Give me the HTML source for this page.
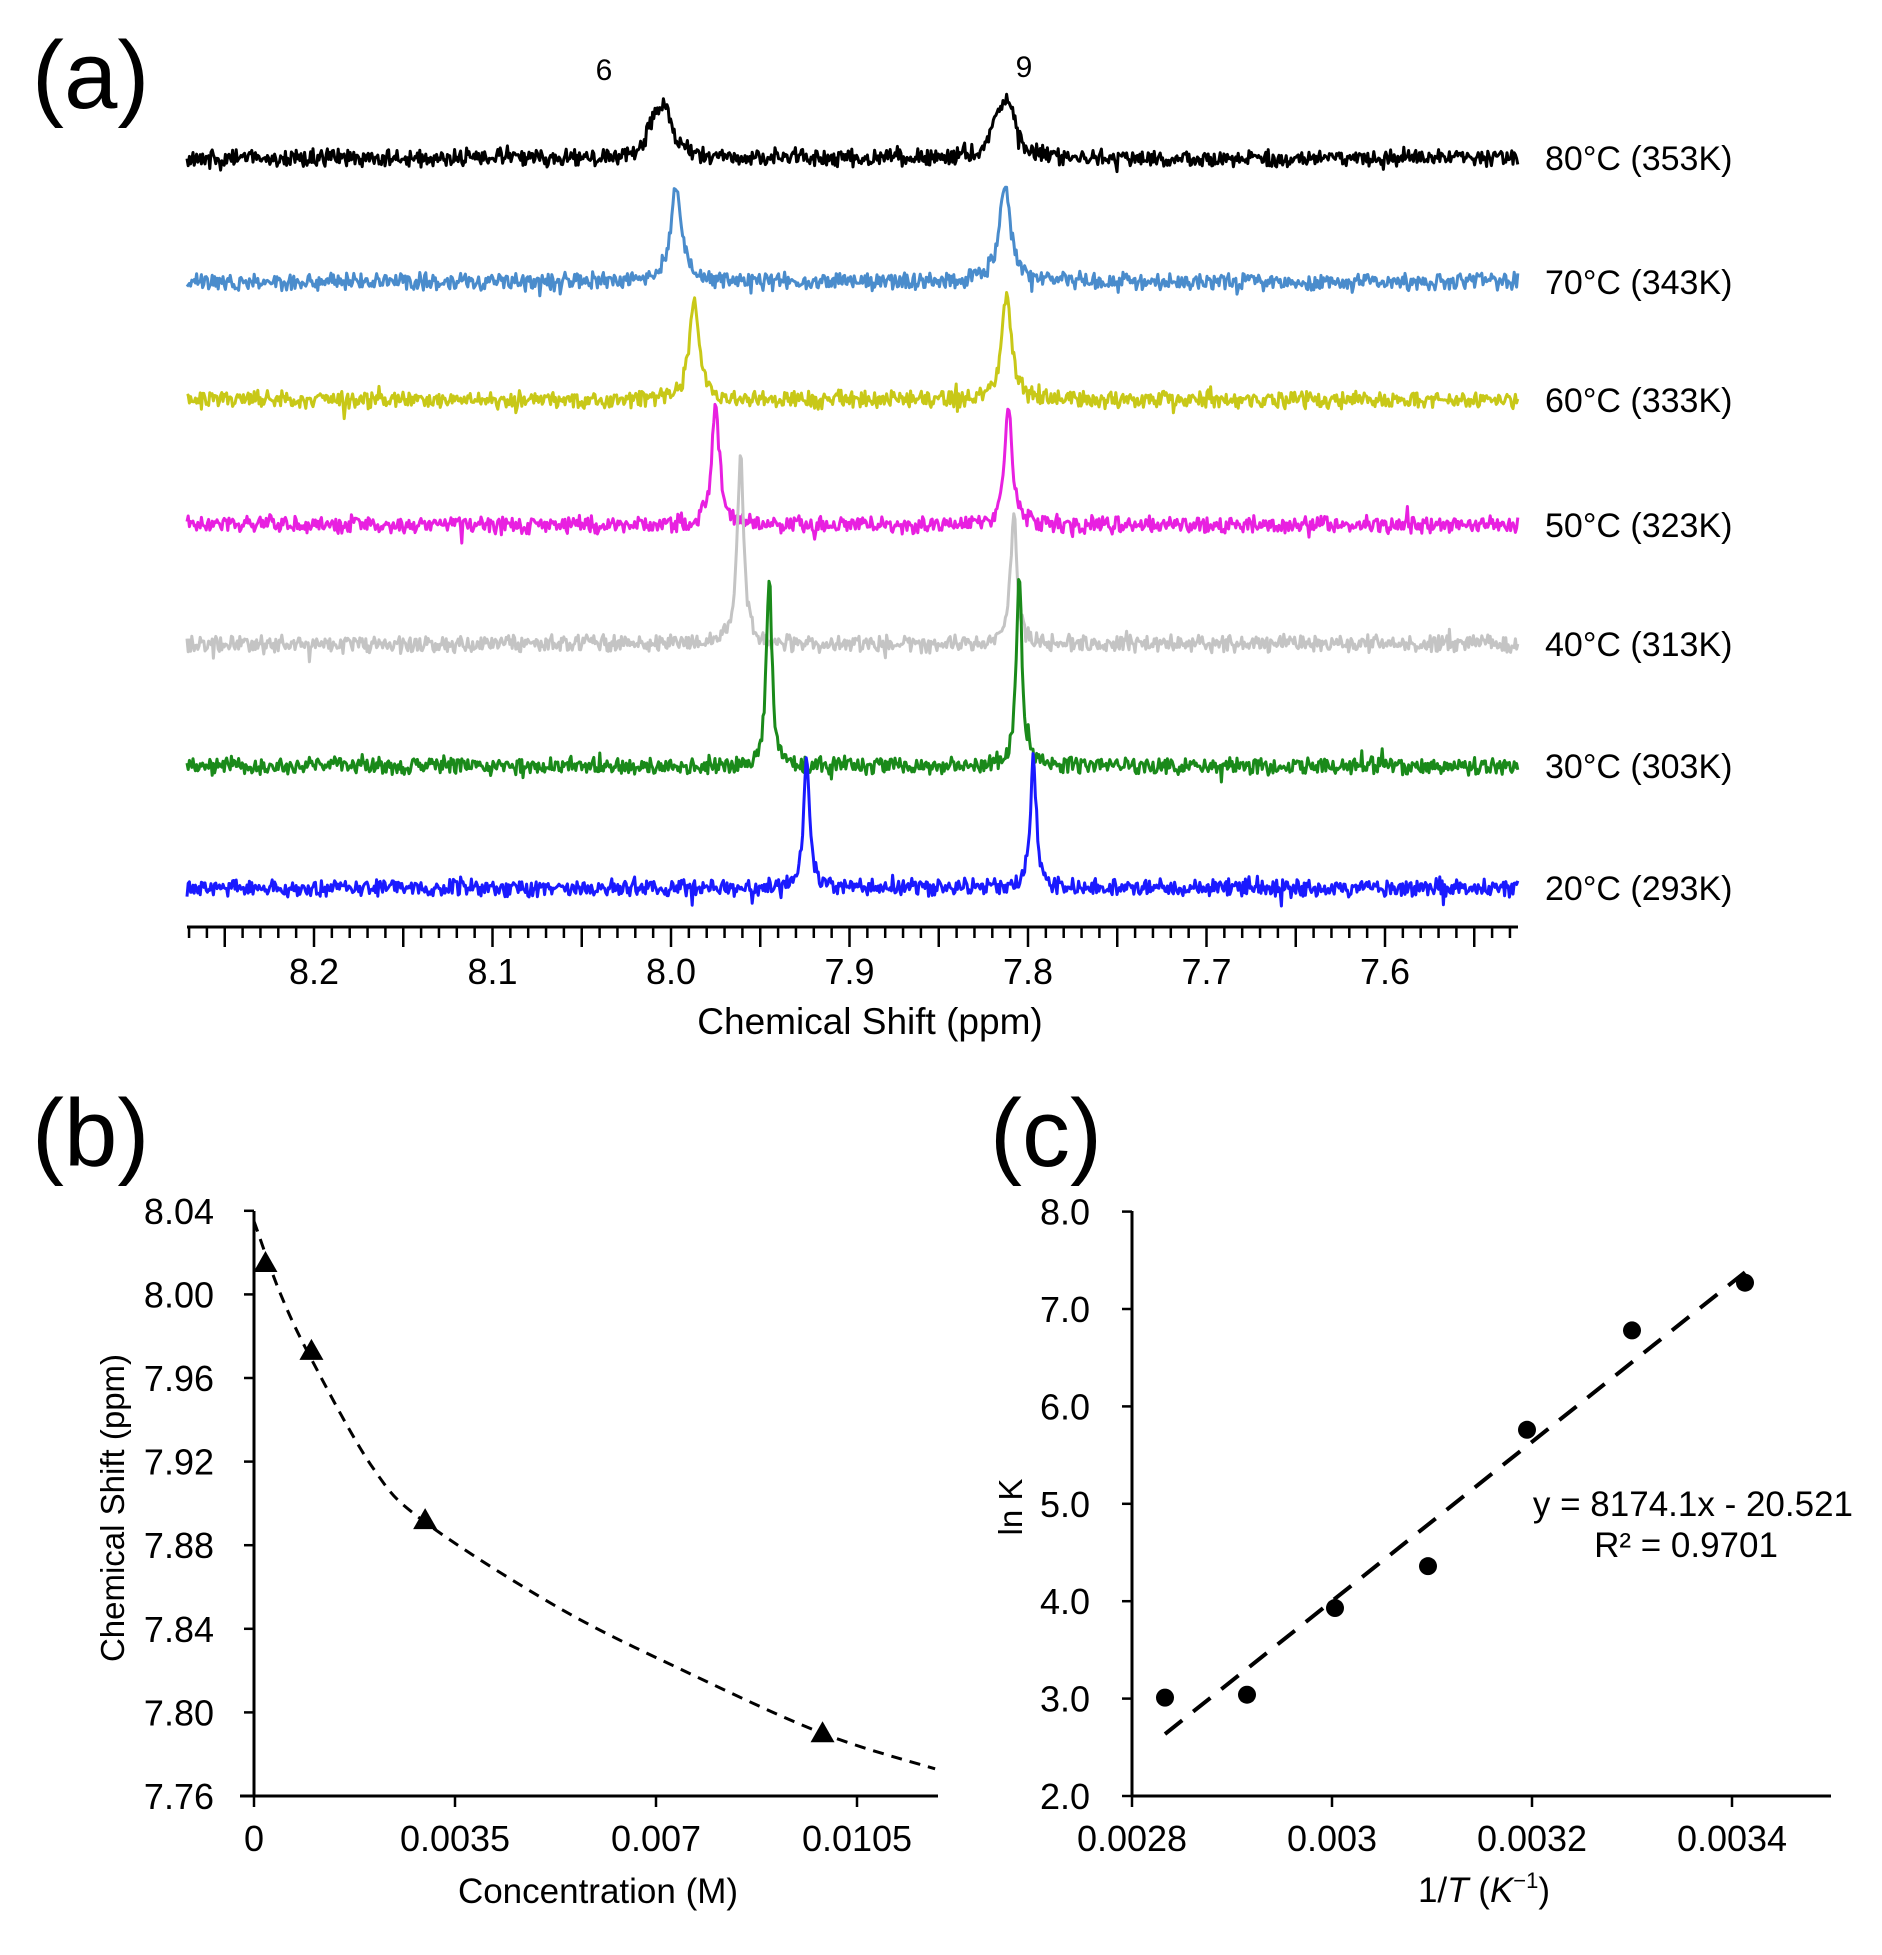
<!DOCTYPE html>
<html><head><meta charset="utf-8"><style>
html,body{margin:0;padding:0;background:#fff}
svg{display:block;font-family:"Liberation Sans",Arial,sans-serif}
</style></head><body>
<svg id="fig" width="1882" height="1955" viewBox="0 0 1882 1955" xmlns="http://www.w3.org/2000/svg">
<rect width="1882" height="1955" fill="#fff"/>
<g id="pa">
<text x="32" y="108" font-size="96">(a)</text>
<text x="604" y="80" font-size="30" text-anchor="middle">6</text>
<text x="1024" y="77" font-size="30" text-anchor="middle">9</text>
<text x="870" y="1034" font-size="37" text-anchor="middle">Chemical Shift (ppm)</text>
</g>
<g id="pb">
<text x="32" y="1166" font-size="96">(b)</text>
<text x="598" y="1903" font-size="35" text-anchor="middle">Concentration (M)</text>
<text transform="translate(124,1508) rotate(-90)" font-size="33" text-anchor="middle">Chemical Shift (ppm)</text>
</g>
<g id="pc">
<text x="990" y="1166" font-size="96">(c)</text>
<text x="1484" y="1902" font-size="35" text-anchor="middle">1/<tspan font-style="italic">T</tspan> (<tspan font-style="italic">K</tspan><tspan font-size="22" dy="-14">−1</tspan><tspan dy="14">)</tspan></text>
<text transform="translate(1022,1507) rotate(-90)" font-size="33" text-anchor="middle">ln K</text>
<text x="1853" y="1516" font-size="35" text-anchor="end">y = 8174.1x - 20.521</text>
<text x="1686" y="1557" font-size="35" text-anchor="middle">R² = 0.9701</text>
</g>
</svg>
<script>
// ---------- Panel (a) data ----------
const tempLabels = ["80°C (353K)","70°C (343K)","60°C (333K)","50°C (323K)","40°C (313K)","30°C (303K)","20°C (293K)"];
const traceColors = ["#000000","#4a8ccc","#c8c818","#e820e0","#c4c4c4","#1a8a1a","#1a1aff"];
const peak6Shift = [8.003,7.997,7.987,7.975,7.961,7.945,7.924];
const peak9Shift = [7.811,7.813,7.812,7.811,7.808,7.805,7.797];
const peak6Height = [0.45,0.90,1.00,1.15,1.80,1.80,1.25];
const peak9Height = [0.50,0.95,1.02,1.15,1.23,1.87,1.25];
const peakWidth = [0.0045,0.0038,0.0032,0.0026,0.0022,0.0019,0.0020];
const ppmTicks = [8.2,8.1,8.0,7.9,7.8,7.7,7.6];
// ---------- Panel (b) data ----------
const concPoints = [0.0002,0.001,0.00298,0.0099];
const shiftPoints = [8.015,7.973,7.892,7.790];
const fitConc = [0,0.00045,0.001,0.00207,0.00298,0.00531,0.00748,0.0099,0.01186];
const fitShift = [8.035,8.001,7.969,7.917,7.891,7.850,7.820,7.790,7.773];
const concTicks = [0,0.0035,0.007,0.0105];
const concTickLabels = ["0","0.0035","0.007","0.0105"];
const shiftTicks = [8.04,8.00,7.96,7.92,7.88,7.84,7.80,7.76];
// ---------- Panel (c) data ----------
const invT = [0.002833,0.002915,0.003003,0.003096,0.003195,0.003300,0.003413];
const lnK = [3.01,3.04,3.93,4.36,5.76,6.78,7.27];
const trendSlope = 8174.1, trendIntercept = -20.521;
const invTTicks = [0.0028,0.003,0.0032,0.0034];
const invTTickLabels = ["0.0028","0.003","0.0032","0.0034"];
const lnKTicks = [2,3,4,5,6,7,8];

const NS="http://www.w3.org/2000/svg";
function mk(tag,attrs,parent){const e=document.createElementNS(NS,tag);for(const k in attrs)e.setAttribute(k,attrs[k]);parent.appendChild(e);return e;}
const pa=document.getElementById('pa'),pb=document.getElementById('pb'),pc=document.getElementById('pc');

// ---- Panel a axes ----
const aX=p=>671+(8.0-p)*1785;
const aL=187,aR=1518,aAxisY=927;
const baselines=[158,282,400,525,644,766,888];
const hScale=104;
let ax=mk('line',{x1:aL,x2:aR,y1:aAxisY,y2:aAxisY,stroke:'#000','stroke-width':3},pa);

for(let i=0;;i++){const p=8.27-i*0.01;if(p<7.525)break;const x=aX(p);const major=Math.abs(Math.round(p*100)%5)==0;
 const t=mk('line',{x1:x,x2:x,y1:aAxisY,y2:aAxisY+(major?20:11),stroke:'#000','stroke-width':2.5},pa);
 }
ppmTicks.forEach(p=>{const t=mk('text',{x:aX(p),y:984,'font-size':36,'text-anchor':'middle'},pa);t.textContent=p.toFixed(1);
 });
let seed=12345;function rnd(){seed=(seed*1103515245+12345)%2147483648;return seed/2147483648;}
tempLabels.forEach((lab,i)=>{
 let d='';
 for(let x=aL;x<=aR;x+=1.2){
  const p=8.0-(x-671)/1785;
  const w=peakWidth[i];
  const l1=1/(1+((p-peak6Shift[i])/w)**2), l2=1/(1+((p-peak9Shift[i])/w)**2);
  let s=peak6Height[i]*l1+peak9Height[i]*l2;
  if(i==0){s+=0.28/(1+((p-peak6Shift[i]-0.007)/0.004)**2)+0.28/(1+((p-peak9Shift[i]-0.006)/0.004)**2);}
  let n=(rnd()-0.5)*13+(rnd()-0.5)*7;
  if(rnd()<0.03)n*=2.0;
  const y=baselines[i]-s*hScale+n;
  d+=(d?'L':'M')+x.toFixed(1)+','+y.toFixed(1);
 }
 const path=mk('path',{d:d,fill:'none',stroke:traceColors[i],'stroke-width':3,'stroke-linejoin':'round'},pa);
 
 const t=mk('text',{x:1545,y:baselines[i]+12,'font-size':34},pa);t.textContent=lab;
 
});

// ---- Panel b ----
const bX=c=>254+c/0.0035*201, bY=v=>1796-(v-7.76)/0.04*83.6;
let b1=mk('line',{x1:254,x2:254,y1:1211,y2:1796,stroke:'#000','stroke-width':3},pb);

let b2=mk('line',{x1:240,x2:938,y1:1796,y2:1796,stroke:'#000','stroke-width':3},pb);

shiftTicks.forEach(v=>{const y=bY(v);const l=mk('line',{x1:244,x2:254,y1:y,y2:y,stroke:'#000','stroke-width':2.5},pb);
 
 const t=mk('text',{x:214,y:y+13,'font-size':36,'text-anchor':'end'},pb);t.textContent=v.toFixed(2);
 });
concTicks.forEach((c,i)=>{const x=bX(c);const l=mk('line',{x1:x,x2:x,y1:1796,y2:1807,stroke:'#000','stroke-width':2.5},pb);
 
 const t=mk('text',{x:x,y:1851,'font-size':36,'text-anchor':'middle'},pb);t.textContent=concTickLabels[i];
 });
// smooth Catmull-Rom through fit points
const fp=fitConc.map((c,i)=>[bX(c),bY(fitShift[i])]);
let fd='M'+fp[0][0].toFixed(1)+','+fp[0][1].toFixed(1);
for(let i=0;i<fp.length-1;i++){const p0=fp[Math.max(0,i-1)],p1=fp[i],p2=fp[i+1],p3=fp[Math.min(fp.length-1,i+2)];
 const c1=[p1[0]+(p2[0]-p0[0])/6,p1[1]+(p2[1]-p0[1])/6],c2=[p2[0]-(p3[0]-p1[0])/6,p2[1]-(p3[1]-p1[1])/6];
 fd+=`C${c1[0].toFixed(1)},${c1[1].toFixed(1)} ${c2[0].toFixed(1)},${c2[1].toFixed(1)} ${p2[0].toFixed(1)},${p2[1].toFixed(1)}`;}
let fit=mk('path',{d:fd,fill:'none',stroke:'#000','stroke-width':3,'stroke-dasharray':'11,8'},pb);

concPoints.forEach((c,i)=>{const x=bX(c),y=bY(shiftPoints[i]);
 const tr=mk('polygon',{points:`${x},${y-12} ${x-12},${y+9} ${x+12},${y+9}`,fill:'#000'},pb);
 });

// ---- Panel c ----
const cX=v=>1132+(v-0.0028)/0.0002*200, cY=v=>1796-(v-2)*97.4;
let c1=mk('line',{x1:1132,x2:1132,y1:1211,y2:1796,stroke:'#000','stroke-width':3},pc);

let c2=mk('line',{x1:1132,x2:1831,y1:1796,y2:1796,stroke:'#000','stroke-width':3},pc);

lnKTicks.forEach(v=>{const y=cY(v);const l=mk('line',{x1:1122,x2:1132,y1:y,y2:y,stroke:'#000','stroke-width':2.5},pc);
 
 const t=mk('text',{x:1090,y:y+13,'font-size':36,'text-anchor':'end'},pc);t.textContent=v.toFixed(1);
 });
invTTicks.forEach((v,i)=>{const x=cX(v);const l=mk('line',{x1:x,x2:x,y1:1796,y2:1807,stroke:'#000','stroke-width':2.5},pc);
 
 const t=mk('text',{x:x,y:1851,'font-size':36,'text-anchor':'middle'},pc);t.textContent=invTTickLabels[i];
 });
const xa=invT[0],xb=invT[invT.length-1];
let tl=mk('line',{x1:cX(xa),y1:cY(trendSlope*xa+trendIntercept),x2:cX(xb),y2:cY(trendSlope*xb+trendIntercept),stroke:'#000','stroke-width':4,'stroke-dasharray':'22,14'},pc);

invT.forEach((v,i)=>{const c=mk('circle',{cx:cX(v),cy:cY(lnK[i]),r:9,fill:'#000'},pc);
 });
</script>
</body></html>
